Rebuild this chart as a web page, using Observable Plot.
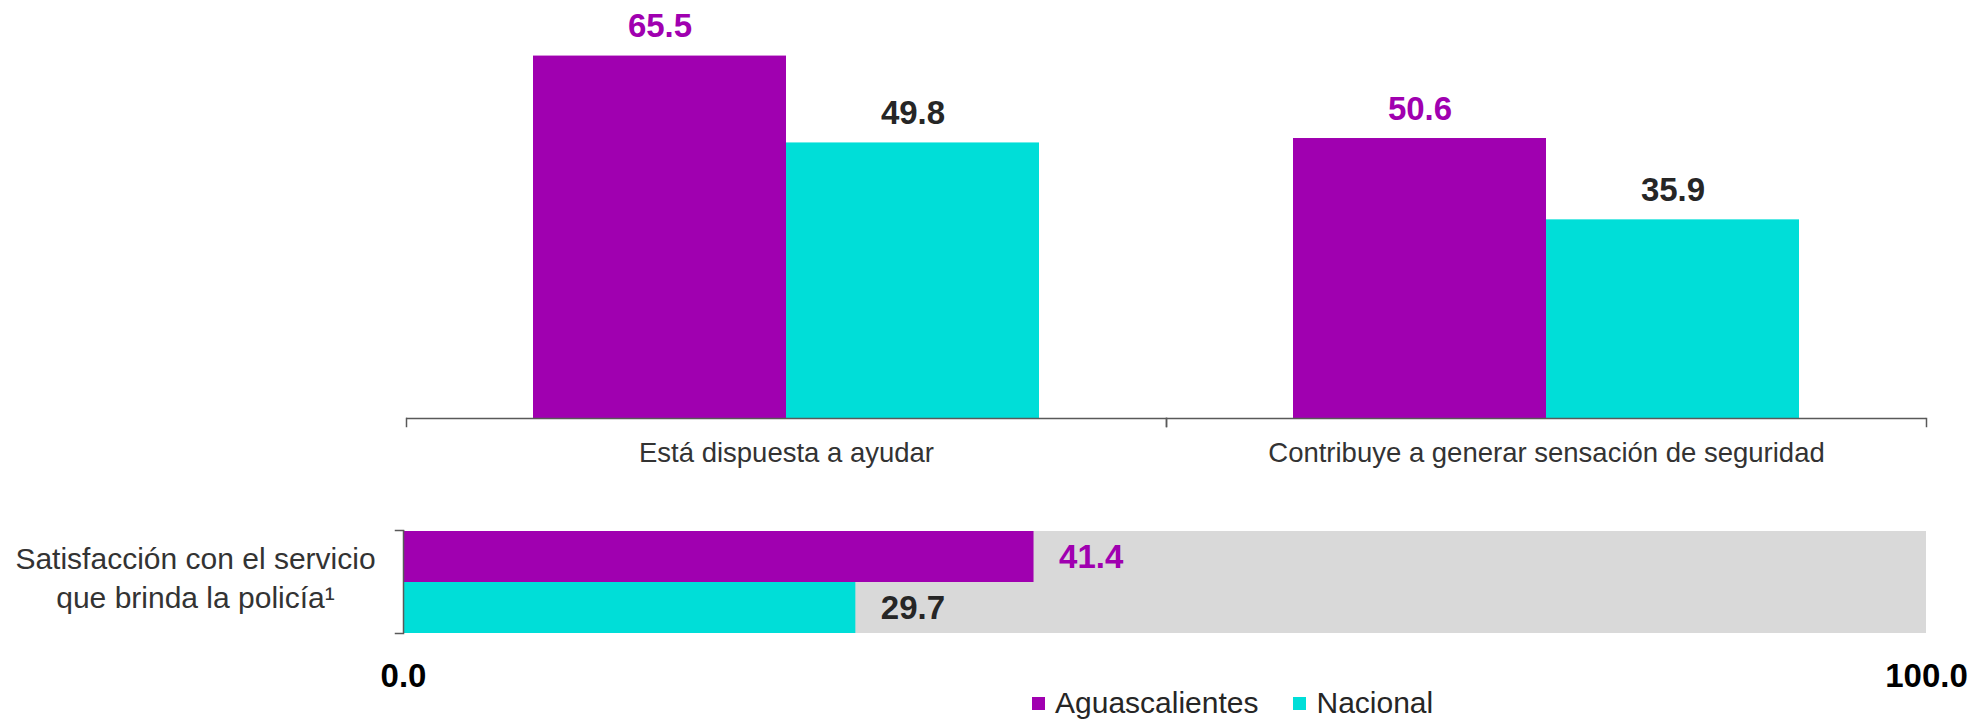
<!DOCTYPE html>
<html>
<head>
<meta charset="utf-8">
<script src="https://cdn.jsdelivr.net/npm/d3@7"></script>
<script src="https://cdn.jsdelivr.net/npm/@observablehq/plot@0.6"></script>
<style>
  html, body { margin: 0; padding: 0; background: #fff; }
  #wrap { position: relative; width: 1980px; height: 721px; overflow: hidden; font-family: "Liberation Sans", Arial, sans-serif; }
  #top { position: absolute; left: 0; top: 0; }
  #bottom { position: absolute; left: 0; top: 480px; }
  #legend { position: absolute; left: 1032px; top: 688px; display: flex; align-items: center; font-size: 30px; line-height: 30px; color: #262626; }
  #legend .sw { width: 13px; height: 13px; margin-right: 10px; }
  #legend .item { display: flex; align-items: center; margin-right: 35px; }
</style>
</head>
<body>
<div id="wrap">
  <div id="top"></div>
  <div id="bottom"></div>
  <div id="legend"></div>
</div>
<script>
// ---- data ----
const categories = ["Está dispuesta a ayudar", "Contribuye a generar sensación de seguridad"];
const series = ["Aguascalientes", "Nacional"];
const aguascalientes = [65.5, 50.6];
const nacional = [49.8, 35.9];
const satisfactionLabel = "Satisfacción con el servicio\nque brinda la policía¹";
const satisfaction = [41.4, 29.7]; // Aguascalientes, Nacional
const xTicks = [0, 100];
const yDomain = [0, 75];
const seriesColors = ["#A000B0", "#00DED8"];
const labelColors = ["#A000B0", "#262626"];

const axisColor = "#595959";
const font = "'Liberation Sans', Arial, sans-serif";

const topRows = [];
categories.forEach((c, i) => {
  topRows.push({category: c, series: series[0], value: aguascalientes[i]});
  topRows.push({category: c, series: series[1], value: nacional[i]});
});
const bottomRows = series.map((s, i) => ({series: s, value: satisfaction[i]}));

// ---- top chart ----
const topHeight = 480, topMarginTop = 3, topMarginBottom = 54;
const topPlot = Plot.plot({
  width: 1980,
  height: topHeight,
  marginLeft: 405,
  marginRight: 54,
  marginTop: topMarginTop,
  marginBottom: topMarginBottom,
  style: {fontFamily: font, color: "#333", background: "transparent"},
  fx: {domain: categories, padding: 0, axis: null},
  x: {domain: series, paddingInner: 0, paddingOuter: 0.5, axis: null},
  y: {domain: yDomain, axis: null, insetBottom: 8},
  color: {domain: series, range: seriesColors},
  marks: [
    Plot.barY(topRows, {fx: "category", x: "series", y: "value", fill: "series"}),
    ...series.map((s, k) => Plot.text(topRows.filter(d => d.series === s), {
      fx: "category", x: "series", y: "value", text: d => d.value.toFixed(1),
      lineAnchor: "bottom", dy: -19, fontSize: 33, fontWeight: "bold", fill: labelColors[k]
    })),
    Plot.ruleY([0], {stroke: axisColor, strokeWidth: 1.5}),
    Plot.frame({anchor: "left", stroke: axisColor, strokeWidth: 1.5, insetTop: topHeight - topMarginTop - topMarginBottom - 8}),
    Plot.frame({anchor: "right", stroke: axisColor, strokeWidth: 1.5, insetTop: topHeight - topMarginTop - topMarginBottom - 8}),
    Plot.axisFx({anchor: "bottom", tickSize: 0, tickPadding: 16, fontSize: 27.5, label: null, fill: "#333"})
  ]
});
document.getElementById("top").appendChild(topPlot);

// ---- bottom chart ----
const botWidth = 1980, botMarginLeft = 395, botMarginRight = 54;
const botPlot = Plot.plot({
  width: botWidth,
  height: 241,
  marginLeft: botMarginLeft,
  marginRight: botMarginRight,
  marginTop: 50,
  marginBottom: 88,
  style: {fontFamily: font, color: "#000", background: "transparent", overflow: "visible"},
  x: {domain: [xTicks[0], xTicks[xTicks.length - 1]], insetLeft: 8, axis: null},
  y: {domain: series, padding: 0, axis: null},
  color: {domain: series, range: seriesColors},
  marks: [
    Plot.barX(series, {x: () => xTicks[xTicks.length - 1], y: d => d, fill: "#D9D9D9"}),
    Plot.barX(bottomRows, {x: "value", y: "series", fill: "series"}),
    ...series.map((s, k) => Plot.text(bottomRows.filter(d => d.series === s), {
      x: "value", y: "series", text: d => d.value.toFixed(1), textAnchor: "start",
      dx: 25, fontSize: 33, fontWeight: "bold", fill: labelColors[k]
    })),
    Plot.ruleX([0], {stroke: axisColor, strokeWidth: 1.5}),
    Plot.frame({anchor: "top", stroke: axisColor, strokeWidth: 1.5, insetRight: botWidth - botMarginLeft - botMarginRight - 8}),
    Plot.frame({anchor: "bottom", stroke: axisColor, strokeWidth: 1.5, insetRight: botWidth - botMarginLeft - botMarginRight - 8}),
    Plot.text([satisfactionLabel], {
      frameAnchor: "left", text: d => d, textAnchor: "middle", lineAnchor: "middle",
      lineHeight: 1.3, dx: -200, dy: -6, fontSize: 30, fill: "#333"
    }),
    Plot.axisX({ticks: xTicks, tickFormat: d3.format(".1f"), tickSize: 0, tickPadding: 30,
      fontSize: 33, fontWeight: "bold", fill: "#000", label: null})
  ]
});
document.getElementById("bottom").appendChild(botPlot);

// ---- legend ----
const legend = document.getElementById("legend");
series.forEach((s, i) => {
  const item = document.createElement("div");
  item.className = "item";
  const sw = document.createElement("div");
  sw.className = "sw";
  sw.style.background = seriesColors[i];
  const t = document.createElement("span");
  t.textContent = s;
  item.appendChild(sw);
  item.appendChild(t);
  legend.appendChild(item);
});
</script>
</body>
</html>
